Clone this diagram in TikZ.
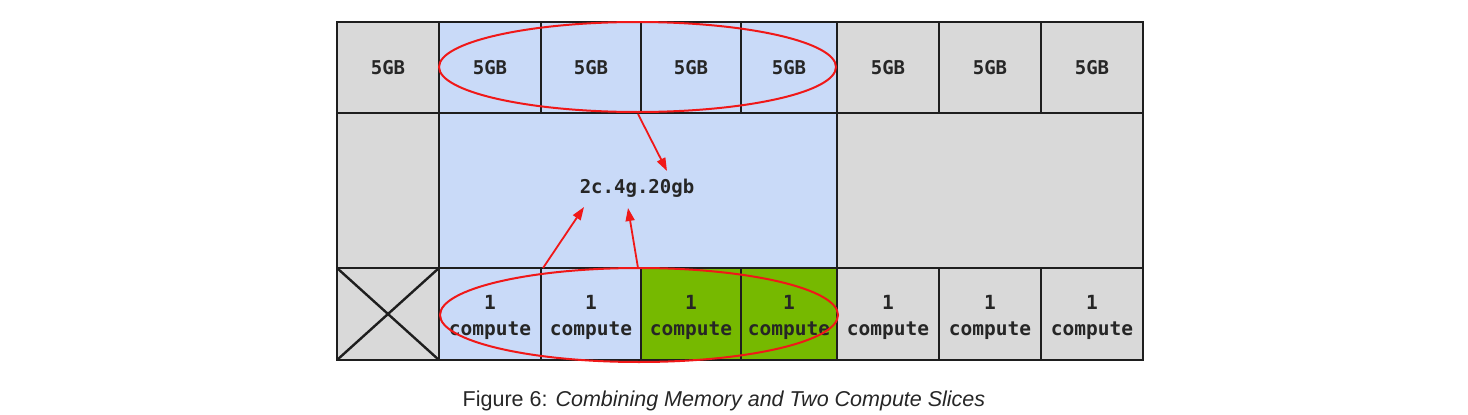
\documentclass[tikz,border=0pt]{standalone}
\usepackage{fontspec}
\setmainfont{Liberation Sans}
\newfontfamily\cellfont{DejaVu Sans Mono}
\usetikzlibrary{shapes.geometric,arrows.meta}
\definecolor{cgrey}{HTML}{D9D9D9}
\definecolor{cblue}{HTML}{C9DAF8}
\definecolor{cgreen}{HTML}{76B900}
\definecolor{cline}{HTML}{1E1E1E}
\definecolor{cred}{HTML}{F01818}
\begin{document}
\begin{tikzpicture}[x=1pt,y=-1pt,
  cell/.style={draw=cline,line width=2.4pt,inner sep=0pt,outer sep=0pt,
    font=\cellfont\bfseries\fontsize{19}{26}\selectfont,align=center,text=black!85},
  grey/.style={cell,fill=cgrey},
  blue/.style={cell,fill=cblue},
  green/.style={cell,fill=cgreen},
  ctext/.style={font=\cellfont\bfseries\fontsize{19.5}{26}\selectfont,align=center,text=black!85,inner sep=0pt},
  ring/.style={draw=cred,line width=2pt,ellipse,inner sep=0pt},
  redarrow/.style={draw=cred,line width=1.8pt,-{Triangle[length=13pt,width=9pt]}}
]
\useasboundingbox (0,0) rectangle (1468,415);
% row 1
\node[grey,minimum width=102,minimum height=91] (m1) at (388,67.5) {5GB};
\node[blue,minimum width=102,minimum height=91] (m2) at (490,67.5) {5GB};
\node[blue,minimum width=100,minimum height=91] (m3) at (591,67.5) {5GB};
\node[blue,minimum width=100,minimum height=91] (m4) at (691,67.5) {5GB};
\node[blue,minimum width=96,minimum height=91] (m5) at (789,67.5) {5GB};
\node[grey,minimum width=102,minimum height=91] (m6) at (888,67.5) {5GB};
\node[grey,minimum width=102,minimum height=91] (m7) at (990,67.5) {5GB};
\node[grey,minimum width=102,minimum height=91] (m8) at (1092,67.5) {5GB};
% row 2
\node[grey,minimum width=102,minimum height=155] (g1) at (388,190.5) {};
\node[blue,minimum width=398,minimum height=155] (prof) at (638,190.5) {};
\node[grey,minimum width=306,minimum height=155] (g2) at (990,190.5) {};
\node[font=\cellfont\bfseries\fontsize{19}{22}\selectfont,text=black!85] (lbl) at (637,188) {2c.4g.20gb};
% row 3
\node[grey,minimum width=102,minimum height=92] (x1) at (388,314) {};
\draw[cline,line width=2.4pt] (x1.north west) -- (x1.south east) (x1.north east) -- (x1.south west);
\node[blue,minimum width=102,minimum height=92] (c2) at (490,314) {};
\node[blue,minimum width=100,minimum height=92] (c3) at (591,314) {};
\node[green,minimum width=100,minimum height=92] (c4) at (691,314) {};
\node[green,minimum width=96,minimum height=92] (c5) at (789,314) {};
\node[grey,minimum width=102,minimum height=92] (c6) at (888,314) {};
\node[grey,minimum width=102,minimum height=92] (c7) at (990,314) {};
\node[grey,minimum width=102,minimum height=92] (c8) at (1092,314) {};
\foreach \n in {c2,c3,c4,c5,c6,c7,c8}
  \node[ctext] (t\n) at ([yshift=-3pt]\n.center) {1\\compute};
% rings
\node[ring,minimum width=397,minimum height=90] (topring) at (637.5,67) {};
\node[ring,minimum width=398,minimum height=94] (botring) at (639,315) {};
% arrows
\coordinate (a1s) at (638,114);
\coordinate (a1e) at (667,171);
\coordinate (a2s) at (543,268);
\coordinate (a2e) at (584,207);
\coordinate (a3s) at (638,268);
\coordinate (a3e) at (628,208);
\draw[redarrow] (a1s) -- (a1e);
\draw[redarrow] (a2s) -- (a2e);
\draw[redarrow] (a3s) -- (a3e);
% caption
\node[font=\fontsize{21.5}{24}\selectfont,text=black!85] (cap) at (724,401) {Figure 6: \textit{Combining Memory and Two Compute Slices}};
\end{tikzpicture}
\end{document}
